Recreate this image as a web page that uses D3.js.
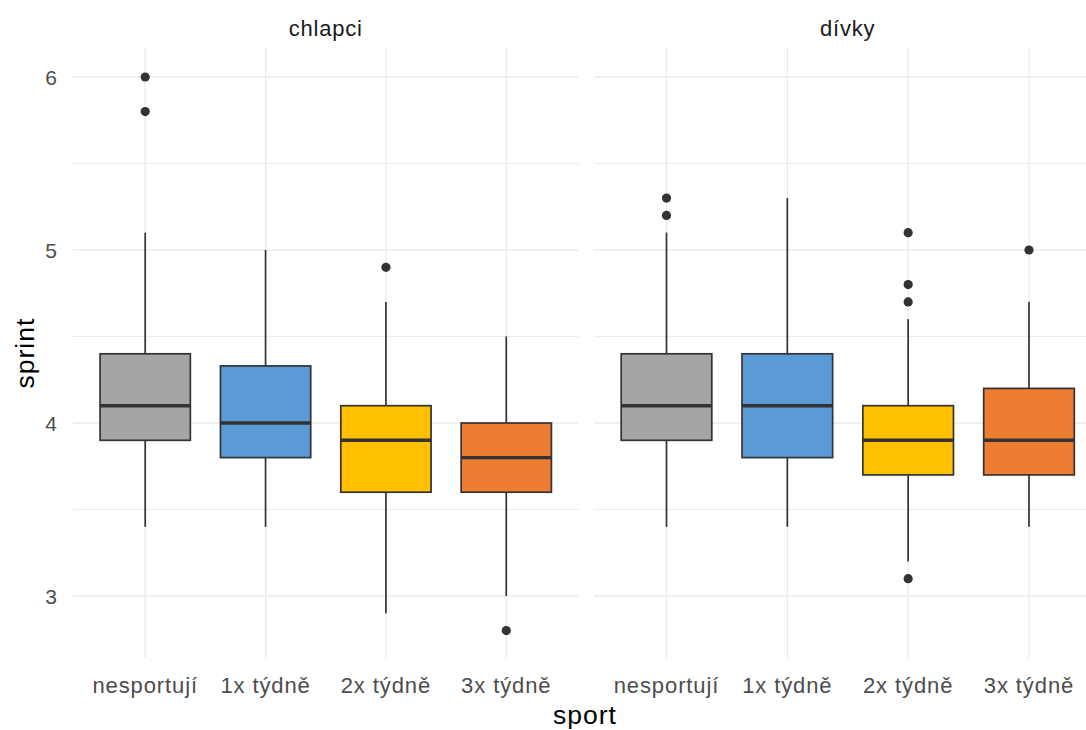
<!DOCTYPE html>
<html>
<head>
<meta charset="utf-8">
<script src="https://cdn.jsdelivr.net/npm/d3@7"></script>
<style>
  html, body { margin: 0; padding: 0; background: #fff; }
  svg { display: block; font-family: "Liberation Sans", Arial, sans-serif; }
</style>
</head>
<body>
<svg id="chart" width="1086" height="730"></svg>
<script>
// ---------- data ----------
const categories = ["nesportují", "1x týdně", "2x týdně", "3x týdně"];
const facets = ["chlapci", "dívky"];
const fills = ["#A5A5A5", "#5B9BD5", "#FFC000", "#ED7D31"];
const yTicks = [3, 4, 5, 6];
const yMinorTicks = [3.5, 4.5, 5.5];

// chlapci
const chlapciLower    = [3.4, 3.4, 2.9, 3.0];
const chlapciQ1       = [3.9, 3.8, 3.6, 3.6];
const chlapciMedian   = [4.1, 4.0, 3.9, 3.8];
const chlapciQ3       = [4.4, 4.33, 4.1, 4.0];
const chlapciUpper    = [5.1, 5.0, 4.7, 4.5];
const chlapciOutliers = [[6.0, 5.8], [], [4.9], [2.8]];

// dívky
const divkyLower    = [3.4, 3.4, 3.2, 3.4];
const divkyQ1       = [3.9, 3.8, 3.7, 3.7];
const divkyMedian   = [4.1, 4.1, 3.9, 3.9];
const divkyQ3       = [4.4, 4.4, 4.1, 4.2];
const divkyUpper    = [5.1, 5.3, 4.6, 4.7];
const divkyOutliers = [[5.3, 5.2], [], [5.1, 4.8, 4.7, 3.1], [5.0]];

const yLabel = "sprint";
const xLabel = "sport";

// ---------- build ----------
function buildStats(lower, q1, med, q3, upper, outl) {
  return categories.map((c, i) => ({
    cat: c, i, lower: lower[i], q1: q1[i], med: med[i], q3: q3[i], upper: upper[i], outliers: outl[i]
  }));
}
const panelsData = [
  buildStats(chlapciLower, chlapciQ1, chlapciMedian, chlapciQ3, chlapciUpper, chlapciOutliers),
  buildStats(divkyLower, divkyQ1, divkyMedian, divkyQ3, divkyUpper, divkyOutliers)
];

const svg = d3.select("#chart");
const panelTop = 48, panelBottom = 658.3;
const panelRanges = [[73, 578.5], [594, 1101.5]];

const y = d3.scaleLinear().domain([2.64, 6.16]).range([panelBottom, 49.3]);

const gridColor = "#EBEBEB";
const lineColor = "#333333";

panelsData.forEach((stats, p) => {
  const [x0, x1] = panelRanges[p];
  const x = d3.scalePoint().domain(categories).range([x0, x1]).padding(0.6);
  const bw = x.step() * 0.75;
  const g = svg.append("g");

  // minor grid
  g.selectAll(".ymin").data(yMinorTicks).enter().append("line")
    .attr("x1", x0).attr("x2", x1)
    .attr("y1", d => y(d)).attr("y2", d => y(d))
    .attr("stroke", gridColor).attr("stroke-width", 1);
  // major grid
  g.selectAll(".ymaj").data(yTicks).enter().append("line")
    .attr("x1", x0).attr("x2", x1)
    .attr("y1", d => y(d)).attr("y2", d => y(d))
    .attr("stroke", gridColor).attr("stroke-width", 1.3);
  g.selectAll(".xmaj").data(categories).enter().append("line")
    .attr("x1", d => x(d)).attr("x2", d => x(d))
    .attr("y1", panelTop - 1).attr("y2", panelBottom)
    .attr("stroke", gridColor).attr("stroke-width", 1.3);

  // strip label
  svg.append("text")
    .attr("x", (x0 + x1) / 2).attr("y", 36)
    .attr("text-anchor", "middle")
    .attr("font-size", 22).attr("letter-spacing", 0.8)
    .attr("fill", "#1A1A1A")
    .text(facets[p]);

  // x tick labels
  svg.selectAll(null).data(categories).enter().append("text")
    .attr("x", d => x(d)).attr("y", 693)
    .attr("text-anchor", "middle")
    .attr("font-size", 22).attr("letter-spacing", 0.9)
    .attr("fill", "#4D4D4D")
    .text(d => d);

  // boxes
  const bx = g.selectAll(".box").data(stats).enter().append("g");
  bx.append("line")
    .attr("x1", d => x(d.cat)).attr("x2", d => x(d.cat))
    .attr("y1", d => y(d.upper)).attr("y2", d => y(d.q3))
    .attr("stroke", lineColor).attr("stroke-width", 1.7);
  bx.append("line")
    .attr("x1", d => x(d.cat)).attr("x2", d => x(d.cat))
    .attr("y1", d => y(d.q1)).attr("y2", d => y(d.lower))
    .attr("stroke", lineColor).attr("stroke-width", 1.7);
  bx.append("rect")
    .attr("x", d => x(d.cat) - bw / 2).attr("width", bw)
    .attr("y", d => y(d.q3)).attr("height", d => y(d.q1) - y(d.q3))
    .attr("fill", (d, i) => fills[i])
    .attr("stroke", lineColor).attr("stroke-width", 1.7);
  bx.append("line")
    .attr("x1", d => x(d.cat) - bw / 2).attr("x2", d => x(d.cat) + bw / 2)
    .attr("y1", d => y(d.med)).attr("y2", d => y(d.med))
    .attr("stroke", lineColor).attr("stroke-width", 3.4);
  bx.each(function(d) {
    d3.select(this).selectAll("circle").data(d.outliers).enter().append("circle")
      .attr("cx", x(d.cat)).attr("cy", v => y(v)).attr("r", 4.6)
      .attr("fill", lineColor);
  });
});

// y tick labels
svg.selectAll(".ytl").data(yTicks).enter().append("text")
  .attr("x", 57).attr("y", d => y(d))
  .attr("dy", "0.36em")
  .attr("text-anchor", "end")
  .attr("font-size", 21)
  .attr("fill", "#4D4D4D")
  .text(d => d);

// axis titles
svg.append("text")
  .attr("transform", `translate(34, ${(panelTop + panelBottom) / 2}) rotate(-90)`)
  .attr("text-anchor", "middle")
  .attr("font-size", 26.5).attr("letter-spacing", 1)
  .attr("fill", "#000")
  .text(yLabel);
svg.append("text")
  .attr("x", 585).attr("y", 724)
  .attr("text-anchor", "middle")
  .attr("font-size", 26.5).attr("letter-spacing", 1)
  .attr("fill", "#000")
  .text(xLabel);
</script>
</body>
</html>
